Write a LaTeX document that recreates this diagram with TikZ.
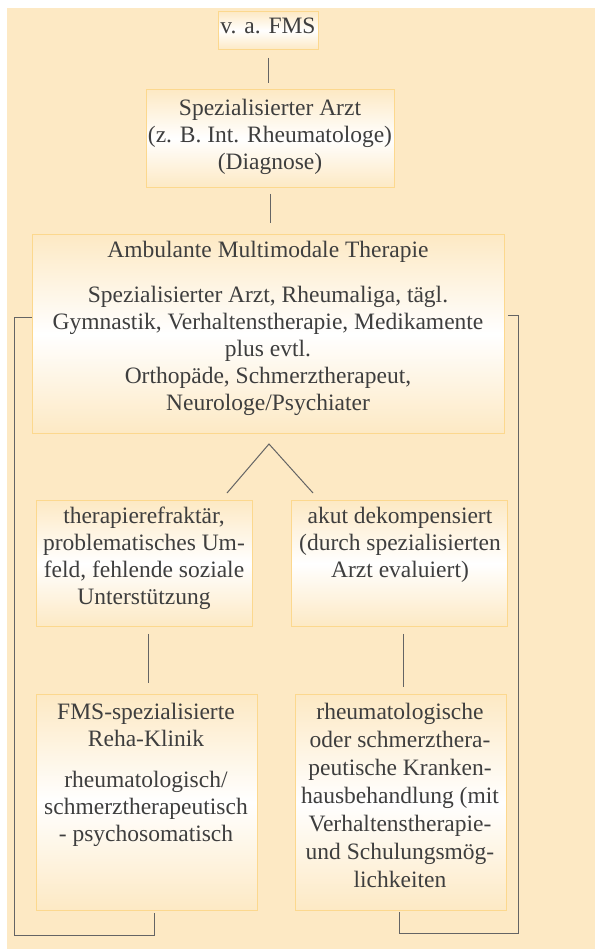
\documentclass[tikz,border=0pt]{standalone}
\usepackage{fontspec}
\setmainfont{Liberation Serif}
\definecolor{bgc}{RGB}{253,233,196}
\definecolor{bdc}{RGB}{252,216,142}
\definecolor{txc}{RGB}{62,62,62}
\definecolor{lnc}{RGB}{100,100,100}
\tikzset{
  box/.style={draw=bdc, line width=0.9pt, top color=bgc, bottom color=bgc, middle color=white, inner sep=0pt, anchor=north west},
  txt/.style={text=txc, align=center, inner sep=0pt, anchor=north, font=\fontsize{23.5}{27}\selectfont},
  txtw/.style={txt, font=\fontsize{23.5}{28}\selectfont},
  conn/.style={draw=lnc, line width=1pt}
}
\begin{document}
\begin{tikzpicture}[x=1pt,y=-1pt]
\useasboundingbox (0,0) rectangle (595,949);
\fill[white] (0,0) rectangle (595,949);
\fill[bgc] (7,8) rectangle (595,949);
% boxes
\node[box, minimum width=100pt, minimum height=38pt] (b1) at (218,11) {};
\node[box, minimum width=248pt, minimum height=98pt] (b2) at (146,89) {};
\node[box, minimum width=472pt, minimum height=199pt] (b3) at (32,234) {};
\node[box, minimum width=216pt, minimum height=126pt] (b4l) at (36,500) {};
\node[box, minimum width=216pt, minimum height=126pt] (b4r) at (291,500) {};
\node[box, minimum width=221pt, minimum height=216pt] (b5l) at (36,694) {};
\node[box, minimum width=211pt, minimum height=216pt] (b5r) at (295,694) {};
% texts
\node[txt] (t1) at (268,14) {\strut v. a. FMS};
\node[txt] (t2) at (270,96) {\strut Spezialisierter Arzt\\(z. B. Int. Rheumatologe)\\(Diagnose)};
\node[txt] (t3) at (268,238) {\strut Ambulante Multimodale Therapie\\[18pt]Spezialisierter Arzt, Rheumaliga, tägl.\\Gymnastik, Verhaltenstherapie, Medikamente\\plus evtl.\\Orthopäde, Schmerztherapeut,\\Neurologe/Psychiater};
\node[txt] (t4l) at (144,504) {\strut therapierefraktär,\\problematisches Um-\\feld, fehlende soziale\\Unterstützung};
\node[txt] (t4r) at (400,504) {\strut akut dekompensiert\\(durch spezialisierten\\Arzt evaluiert)};
\node[txt] (t5l) at (146,700) {\strut FMS-spezialisierte\\Reha-Klinik\\[14pt]rheumatologisch/\\schmerztherapeutisch\\- psychosomatisch};
\node[txtw] (t5r) at (400,699.4) {\strut rheumatologische\\oder schmerzthera-\\peutische Kranken-\\hausbehandlung (mit\\Verhaltenstherapie-\\und Schulungsmög-\\lichkeiten};
% connectors
\draw[conn, shorten <=8pt, shorten >=6pt] (b1.south) -- (b1.south |- b2.north);
\draw[conn, shorten <=6pt, shorten >=11pt] (b2.south) -- (b2.south |- b3.north);
\coordinate (apex) at (269,444);
\coordinate (tl) at (227,493);
\coordinate (tr) at (313,493);
\draw[conn] (tl) -- (apex) -- (tr);
\draw[conn, shorten <=7pt, shorten >=11pt] ([xshift=4pt]b4l.south) -- ([xshift=4pt]b4l.south |- b5l.north);
\draw[conn, shorten <=7pt, shorten >=7pt] ([xshift=4pt]b4r.south) -- ([xshift=4pt]b4r.south |- b5r.north);
\coordinate (la) at (32,317);
\coordinate (lb) at (14,317);
\coordinate (lc) at (14,935);
\coordinate (ld) at (154,935);
\coordinate (le) at (154,913);
\draw[conn] (la) -- (lb) -- (lc) -- (ld) -- (le);
\coordinate (ra) at (508,315);
\coordinate (rb) at (518,315);
\coordinate (rc) at (518,933);
\coordinate (rd) at (399,933);
\coordinate (re) at (399,912);
\draw[conn] (ra) -- (rb) -- (rc) -- (rd) -- (re);
\end{tikzpicture}
\end{document}
